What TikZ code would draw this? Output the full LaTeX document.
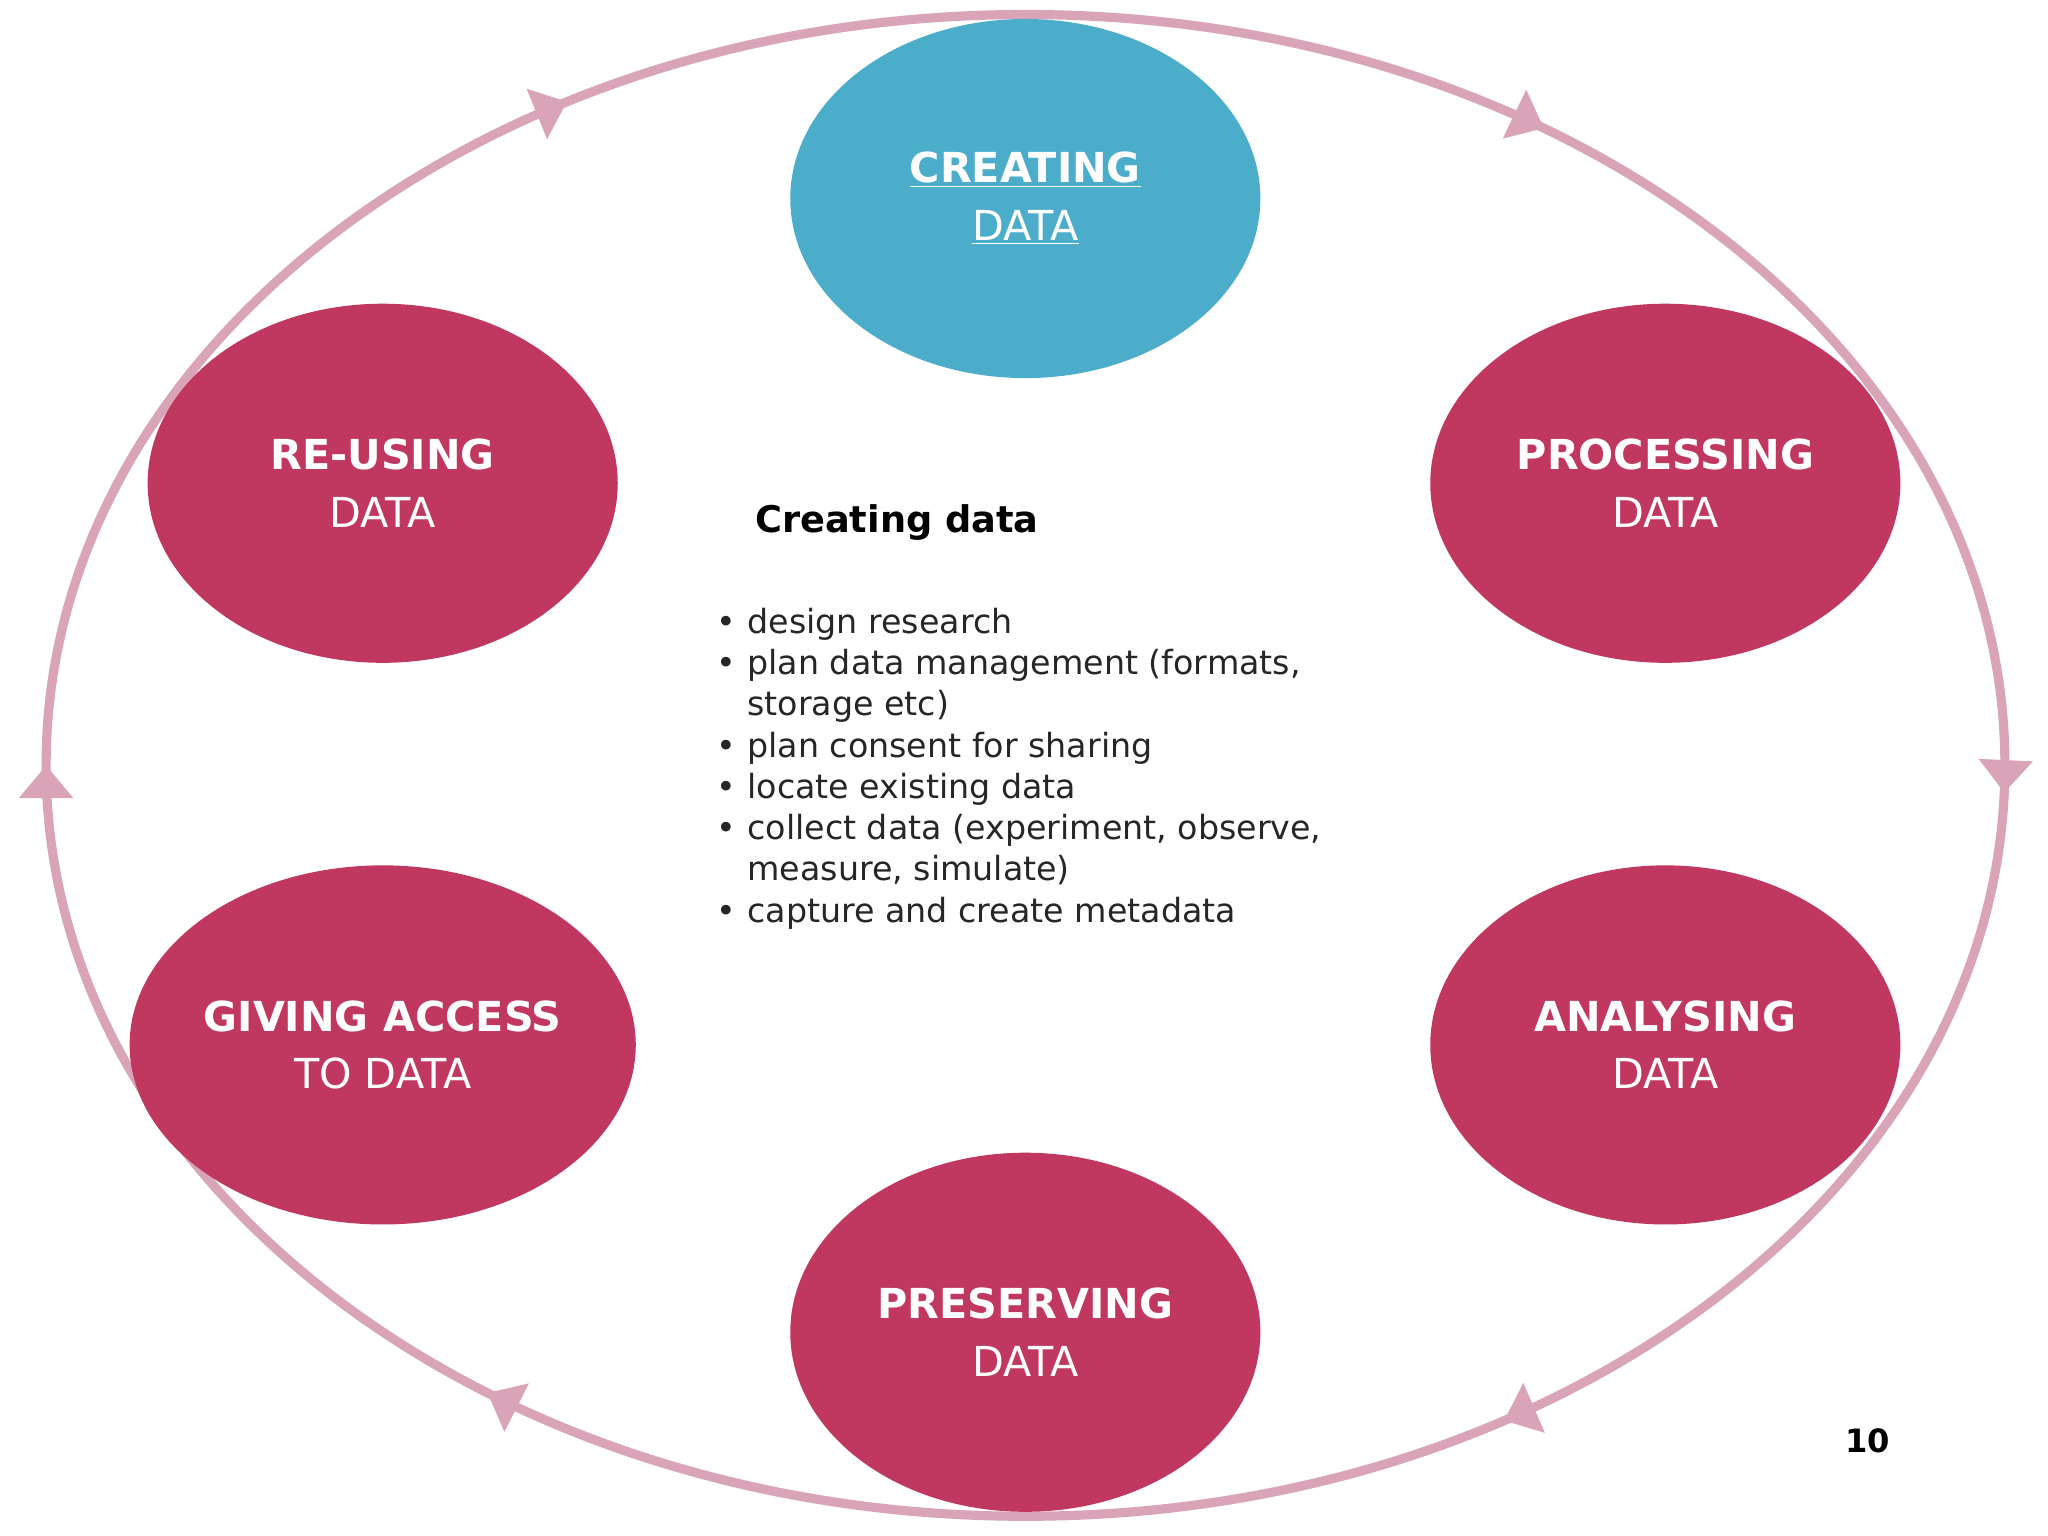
\documentclass[tikz,border=0pt]{standalone}
\usepackage{fontspec}
\setmainfont{DejaVu Sans}
\usetikzlibrary{decorations.markings,arrows.meta,shapes.geometric}
\definecolor{ring}{HTML}{D9A3B8}
\definecolor{rose}{HTML}{C0385F}
\definecolor{sky}{HTML}{4CADCB}
\tikzset{
  blob/.style={ellipse,inner sep=0pt,minimum width=7.2cm,minimum height=5.5cm,fill=rose,draw=none,text=white,align=center,font=\fontsize{18}{25}\selectfont},
  ringtips/.style={postaction={decorate},decoration={markings,
    mark=at position 0.005 with {\arrow{Triangle[width=0.8cm,length=0.5cm]}},
    mark=at position 0.16 with {\arrow{Triangle[width=0.8cm,length=0.5cm]}},
    mark=at position 0.352 with {\arrow{Triangle[width=0.8cm,length=0.5cm]}},
    mark=at position 0.5 with {\arrow{Triangle[width=0.8cm,length=0.5cm]}},
    mark=at position 0.664 with {\arrow{Triangle[width=0.8cm,length=0.5cm]}},
    mark=at position 0.848 with {\arrow{Triangle[width=0.8cm,length=0.5cm]}}}}
}
\begin{document}
\begin{tikzpicture}[x=0.02cm,y=-0.02cm]
\useasboundingbox[fill=white] (0,0) rectangle (1568,1176);
\draw[ring,line width=4pt,ringtips]
  (1535,586) arc[start angle=0,end angle=-360,x radius=15cm,y radius=11.5cm];
\node[blob,fill=sky] (cr) at (785,152) {\textbf{\underline{CREATING}}\\\underline{DATA}};
\node[blob] (ru) at (293,370) {\textbf{RE-USING}\\DATA};
\node[blob] (pr) at (1275,370) {\textbf{PROCESSING}\\DATA};
\node[blob] (ga) at (293,800) {\textbf{GIVING ACCESS}\\TO DATA};
\node[blob] (an) at (1275,800) {\textbf{ANALYSING}\\DATA};
\node[blob] (ps) at (785,1020) {\textbf{PRESERVING}\\DATA};
\node[anchor=west,font=\bfseries\fontsize{16}{20}\selectfont] (h) at (572,400) {Creating data};
\node[anchor=north west,align=left,font=\fontsize{14.5}{18}\selectfont,text=black!85,inner sep=0pt] (l) at (528,465) {%
\begin{minipage}{12cm}
\begin{itemize}\setlength{\itemsep}{0pt}\setlength{\parskip}{0pt}\setlength{\leftmargin}{0.9cm}
\item design research
\item plan data management (formats,\\storage etc)
\item plan consent for sharing
\item locate existing data
\item collect data (experiment, observe,\\measure, simulate)
\item capture and create metadata
\end{itemize}
\end{minipage}};
\node[font=\bfseries\fontsize{14}{16}\selectfont] (n) at (1430,1103) {10};
\end{tikzpicture}
\end{document}
